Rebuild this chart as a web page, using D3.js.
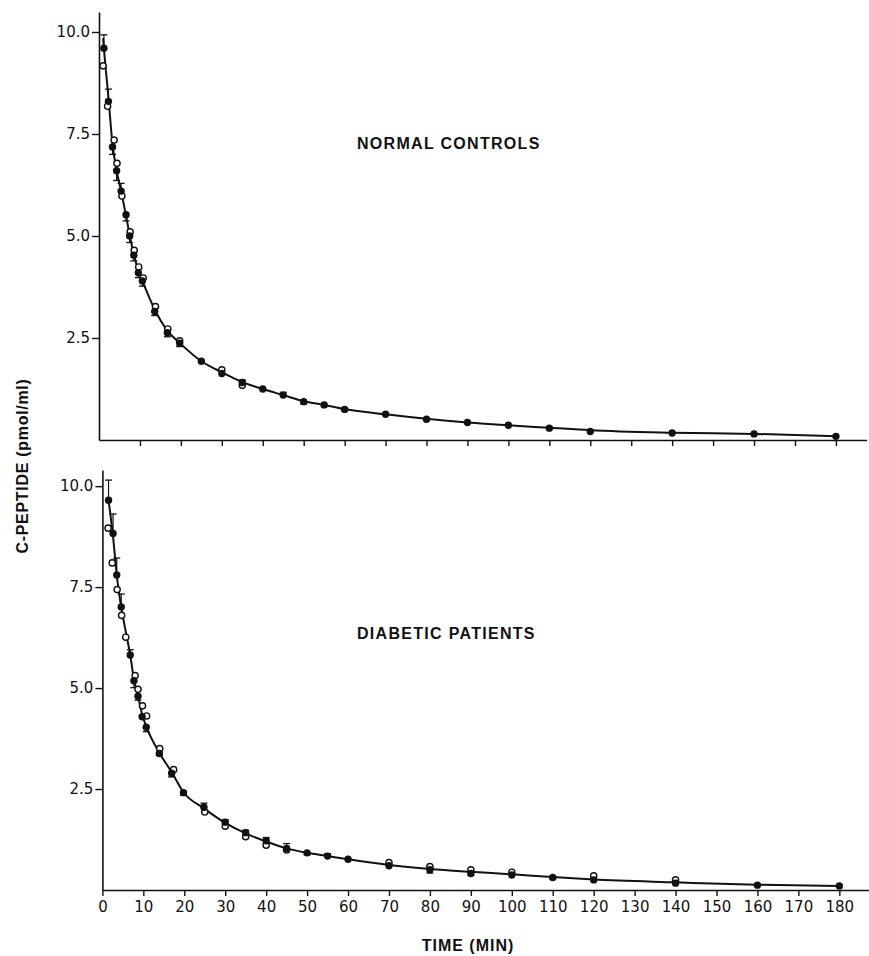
<!DOCTYPE html>
<html>
<head>
<meta charset="utf-8">
<script src="https://cdn.jsdelivr.net/npm/d3@7"></script>
<style>
  html, body { margin: 0; padding: 0; background: #fff; }
  svg { display: block; }
  .tick text { font-family: "DejaVu Sans", sans-serif; font-size: 15px; fill: #111; }
  .lbl { font-family: "Liberation Sans", Arial, sans-serif; font-weight: bold; font-size: 16px; fill: #111; }
</style>
</head>
<body>
<script>
const width = 869;
const height = 956;

const xTicks = d3.range(0, 181, 10);
const yTicks = [2.5, 5.0, 7.5, 10.0];

// normal controls, filled circles
const normFilledT = [1.2, 2.3, 3.3, 4.3, 5.4, 6.6, 7.5, 8.5, 9.6, 10.6, 13.6, 16.7, 19.7, 25, 30, 35, 40, 45, 50, 55, 60, 70, 80, 90, 100, 110, 120, 140, 160, 180];
const normFilledV = [9.6, 8.3, 7.18, 6.6, 6.1, 5.52, 5.0, 4.53, 4.1, 3.9, 3.15, 2.63, 2.37, 1.93, 1.63, 1.41, 1.25, 1.10, 0.94, 0.86, 0.75, 0.63, 0.51, 0.43, 0.36, 0.29, 0.21, 0.17, 0.15, 0.09];
const normFilledErr = [0.33, 0.3, -0.18, -0.24, 0.19, -0.15, -0.16, -0.14, -0.12, -0.13, -0.1, -0.1, -0.08, 0, 0, 0.06, 0, 0.07, -0.06, -0.04, 0, 0, 0, 0, 0, 0, 0, 0, 0, 0];
// normal controls, open circles
const normOpenT = [1.0, 2.1, 3.7, 4.4, 5.6, 7.6, 8.6, 9.7, 10.8, 13.8, 16.8, 19.7, 30, 35];
const normOpenV = [9.17, 8.18, 7.35, 6.78, 5.98, 5.1, 4.65, 4.24, 3.97, 3.27, 2.72, 2.43, 1.72, 1.34];
// normal controls, drawn curve
const normCurveT = [1.0, 1.2, 2.3, 3.3, 4.3, 5.4, 6.6, 7.5, 8.5, 9.6, 10.6, 13.6, 16.7, 19.7, 25, 30, 35, 40, 45, 50, 55, 60, 70, 80, 90, 100, 110, 120, 140, 160, 180];
const normCurveV = [9.85, 9.6, 8.4, 7.25, 6.6, 6.1, 5.5, 5.02, 4.55, 4.15, 3.9, 3.2, 2.68, 2.38, 1.93, 1.66, 1.42, 1.25, 1.1, 0.95, 0.86, 0.76, 0.63, 0.52, 0.43, 0.36, 0.3, 0.24, 0.18, 0.15, 0.09];

// diabetic patients, filled circles
const diabFilledT = [1.5, 2.6, 3.5, 4.6, 6.8, 7.7, 8.7, 9.7, 10.7, 13.9, 16.9, 19.8, 24.8, 30, 35, 40, 45, 50, 55, 60, 70, 80, 90, 100, 110, 120, 140, 160, 180];
const diabFilledV = [9.65, 8.83, 7.8, 7.01, 5.82, 5.18, 4.8, 4.29, 4.03, 3.38, 2.89, 2.41, 2.05, 1.68, 1.42, 1.22, 1.03, 0.92, 0.84, 0.76, 0.6, 0.5, 0.41, 0.37, 0.31, 0.25, 0.17, 0.12, 0.1];
const diabFilledErr = [0.5, 0.48, 0.42, 0.32, 0.13, -0.17, -0.1, 0, -0.11, -0.05, -0.09, -0.06, 0.1, 0.06, 0.06, 0.08, 0.12, -0.05, 0.06, 0, 0, -0.08, -0.05, 0, -0.04, 0, 0, 0, 0];
// diabetic patients, open circles
const diabOpenT = [1.4, 2.4, 3.6, 4.7, 5.7, 8.0, 8.7, 9.8, 10.8, 14.0, 17.4, 25, 30, 35, 40, 45, 70, 80, 90, 100, 120, 140];
const diabOpenV = [8.96, 8.1, 7.44, 6.8, 6.26, 5.31, 4.97, 4.56, 4.31, 3.5, 2.98, 1.93, 1.58, 1.32, 1.11, 0.99, 0.68, 0.58, 0.5, 0.44, 0.35, 0.25];
// diabetic patients, drawn curve
const diabCurveT = [1.5, 2.6, 3.5, 4.6, 5.7, 6.8, 7.7, 8.7, 9.7, 10.7, 13.9, 16.9, 19.8, 24.8, 30, 35, 40, 45, 50, 55, 60, 70, 80, 90, 100, 110, 120, 140, 160, 180];
const diabCurveV = [9.65, 8.75, 7.8, 7.0, 6.4, 5.82, 5.22, 4.8, 4.35, 4.05, 3.4, 2.92, 2.42, 2.02, 1.66, 1.4, 1.2, 1.03, 0.92, 0.84, 0.76, 0.62, 0.52, 0.45, 0.39, 0.32, 0.26, 0.19, 0.13, 0.1];

const svg = d3.select('body').append('svg')
  .attr('width', width)
  .attr('height', height)
  .attr('viewBox', `0 0 ${width} ${height}`);

function zip(ts, vs, es) {
  return ts.map((t, i) => ({ t: t, v: vs[i], e: es ? es[i] : 0 }));
}

function drawPanel(p) {
  const x = d3.scaleLinear().domain([0, 187.5]).range([p.left, p.left + 187.5 * 4.094]);
  const y = d3.scaleLinear().domain([0, p.yMax]).range([p.bottom, p.top]);

  const g = svg.append('g').attr('class', 'panel');

  // x axis
  const xAxis = d3.axisBottom(x)
    .tickValues(p.showXLabels ? xTicks : xTicks.slice(1))
    .tickSize(6)
    .tickSizeOuter(0)
    .tickPadding(5)
    .tickFormat(p.showXLabels ? d3.format('d') : '');
  g.append('g')
    .attr('transform', `translate(0,${p.bottom})`)
    .call(xAxis)
    .call(a => a.select('.domain').attr('stroke', '#111').attr('stroke-width', 1.6))
    .call(a => a.selectAll('.tick line').attr('stroke', '#111').attr('stroke-width', 1.4));

  // y axis
  const yAxis = d3.axisLeft(y)
    .tickValues(yTicks)
    .tickSize(7)
    .tickSizeOuter(0)
    .tickPadding(2)
    .tickFormat(d3.format('.1f'));
  g.append('g')
    .attr('transform', `translate(${p.left},0)`)
    .call(yAxis)
    .call(a => a.select('.domain').attr('stroke', '#111').attr('stroke-width', 1.6))
    .call(a => a.selectAll('.tick line').attr('stroke', '#111').attr('stroke-width', 1.4));

  // curve
  const line = d3.line()
    .x(d => x(d.t))
    .y(d => y(d.v))
    .curve(d3.curveMonotoneX);
  g.append('path')
    .datum(p.curve)
    .attr('d', line)
    .attr('fill', 'none')
    .attr('stroke', '#111')
    .attr('stroke-width', 2);

  // error bars (drawn to one side, as in the figure)
  const bars = g.append('g').attr('class', 'errbars')
    .selectAll('g')
    .data(p.filled.filter(d => d.e !== 0))
    .enter().append('g');
  bars.append('line')
    .attr('x1', d => x(d.t)).attr('x2', d => x(d.t))
    .attr('y1', d => y(d.v)).attr('y2', d => y(d.v + d.e))
    .attr('stroke', '#111').attr('stroke-width', 1.2);
  bars.append('line')
    .attr('x1', d => x(d.t) - 3.5).attr('x2', d => x(d.t) + 3.5)
    .attr('y1', d => y(d.v + d.e)).attr('y2', d => y(d.v + d.e))
    .attr('stroke', '#111').attr('stroke-width', 1.3);

  // open circles
  g.append('g').attr('class', 'open')
    .selectAll('circle')
    .data(p.open)
    .enter().append('circle')
    .attr('cx', d => x(d.t))
    .attr('cy', d => y(d.v))
    .attr('r', 3.1)
    .attr('fill', '#fff')
    .attr('stroke', '#111')
    .attr('stroke-width', 1.4);

  // filled circles
  g.append('g').attr('class', 'filled')
    .selectAll('circle')
    .data(p.filled)
    .enter().append('circle')
    .attr('cx', d => x(d.t))
    .attr('cy', d => y(d.v))
    .attr('r', 3.7)
    .attr('fill', '#111');

  g.append('text')
    .attr('class', 'lbl')
    .attr('x', p.titleX)
    .attr('y', p.titleY)
    .attr('letter-spacing', 1.3)
    .text(p.title);
}

drawPanel({
  title: 'NORMAL CONTROLS',
  titleX: 357, titleY: 149,
  left: 99, bottom: 440, top: 12, yMax: 10.49,
  showXLabels: false,
  filled: zip(normFilledT, normFilledV, normFilledErr),
  open: zip(normOpenT, normOpenV),
  curve: zip(normCurveT, normCurveV)
});

drawPanel({
  title: 'DIABETIC PATIENTS',
  titleX: 357, titleY: 639,
  left: 102.4, bottom: 890, top: 470, yMax: 10.4,
  showXLabels: true,
  filled: zip(diabFilledT, diabFilledV, diabFilledErr),
  open: zip(diabOpenT, diabOpenV),
  curve: zip(diabCurveT, diabCurveV)
});

// axis titles
svg.append('text')
  .attr('class', 'lbl')
  .attr('transform', 'translate(28,466) rotate(-90)')
  .attr('text-anchor', 'middle')
  .attr('letter-spacing', 0.7)
  .text('C-PEPTIDE (pmol/ml)');

svg.append('text')
  .attr('class', 'lbl')
  .attr('x', 468)
  .attr('y', 951)
  .attr('text-anchor', 'middle')
  .attr('letter-spacing', 1.0)
  .text('TIME (MIN)');
</script>
</body>
</html>
